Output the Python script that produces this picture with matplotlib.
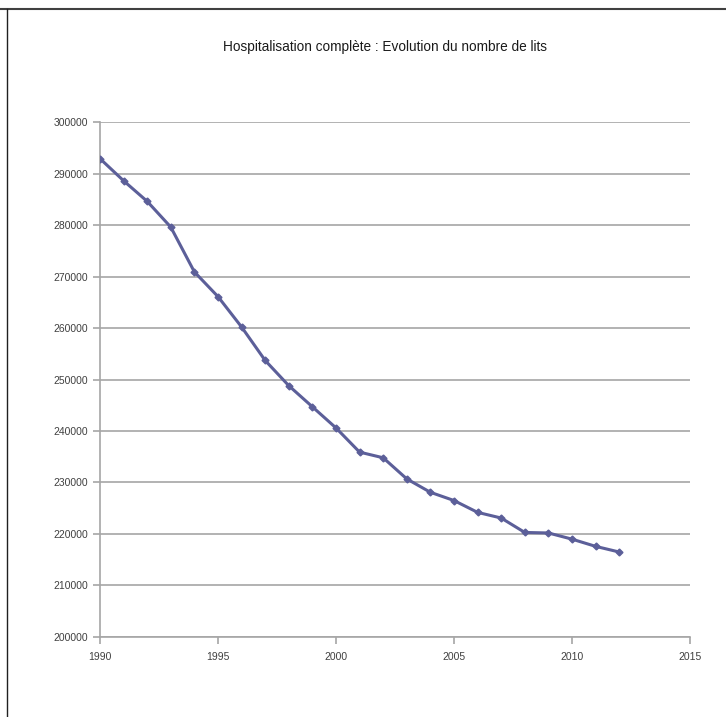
import matplotlib

matplotlib.use("Agg")
import matplotlib.pyplot as plt
from matplotlib.lines import Line2D

plt.rcParams["font.family"] = ["Liberation Sans Narrow", "Liberation Sans", "DejaVu Sans"]

years = list(range(1990, 2013))
beds = [292900, 288600, 284600, 279600, 270900, 266100, 260200, 253700,
        248800, 244700, 240600, 235900, 234800, 230700, 228100, 226500,
        224200, 223100, 220300, 220200, 219000, 217600, 216500]
title = "Hospitalisation complète : Evolution du nombre de lits"

fig = plt.figure(figsize=(7.26, 7.17), dpi=100)
ax = fig.add_axes([0.1377, 0.1116, 0.8127, 0.7182])

ax.plot(years, beds, color="#5c5f99", lw=2.2, marker="D", ms=3.5,
        markeredgecolor="#5c5f99", zorder=3)

ax.set_xlim(1990, 2015)
ax.set_ylim(200000, 300000)
ax.set_xticks(range(1990, 2016, 5))
ax.set_yticks(range(200000, 300001, 10000))
ax.yaxis.grid(True, color="#a6a6a6", lw=1.2)
ax.set_axisbelow(True)
for side in ["top", "right"]:
    ax.spines[side].set_visible(False)
for side in ["left", "bottom"]:
    ax.spines[side].set_color("#a6a6a6")
    ax.spines[side].set_linewidth(1.2)
ax.tick_params(axis="both", colors="#a6a6a6", labelcolor="#404040",
               labelsize=7.5, length=5, width=1.2)
ax.tick_params(axis="x", pad=6)

fig.text(0.530, 0.934, title, ha="center", va="center", fontsize=9.8, color="#1a1a1a")

# outer chart frame (top and left edges visible)
fig.add_artist(Line2D([0.0, 1.0], [0.988, 0.988], transform=fig.transFigure,
                      color="#404040", lw=1.5))
fig.add_artist(Line2D([0.0097, 0.0097], [0.0, 0.988], transform=fig.transFigure,
                      color="#202020", lw=1.0))

fig.savefig("out.png", dpi=100)
